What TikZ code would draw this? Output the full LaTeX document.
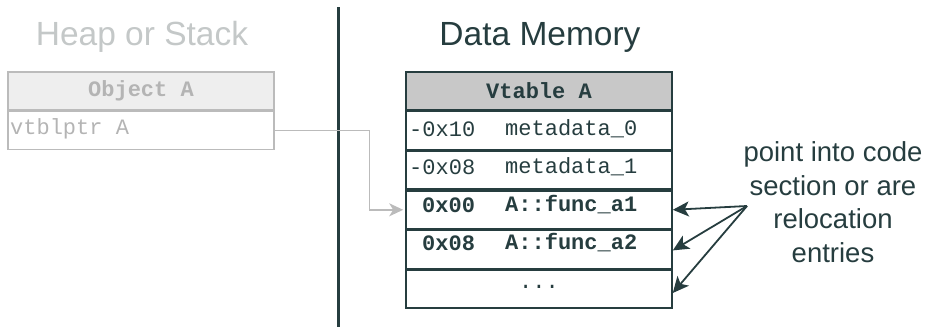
\documentclass[tikz,border=0pt]{standalone}
\usepackage{fontspec}
\setmainfont{Liberation Sans}
\setmonofont{Liberation Mono}
\usetikzlibrary{arrows.meta,positioning}
\definecolor{ink}{HTML}{263D3F}
\definecolor{faded}{HTML}{C4C8C8}
\definecolor{fadedtext}{HTML}{B4B4B4}
\definecolor{fadedline}{HTML}{BBBBBB}
\definecolor{hdrgrey}{HTML}{C8C8C8}
\definecolor{hdrlight}{HTML}{EEEEEE}
\tikzset{
  title/.style={font=\fontsize{33.5}{38}\selectfont, inner sep=0pt},
  cell/.style={draw=ink, line width=1.6pt, minimum width=266pt, minimum height=38pt,
    inner sep=0pt, font=\ttfamily\fontsize{22}{24}\selectfont, text=ink},
  fcell/.style={draw=fadedline, line width=1.4pt, minimum width=266pt, minimum height=38pt,
    inner sep=0pt, font=\ttfamily\fontsize{22}{24}\selectfont, text=fadedtext},
  celltxt/.style={anchor=west, inner sep=0pt, font=\ttfamily\fontsize{22}{24}\selectfont, text=ink},
  boldtxt/.style={celltxt, font=\ttfamily\bfseries\fontsize{22}{24}\selectfont},
  ptr/.style={-{Stealth[length=16pt,width=15pt,inset=4pt]}, line width=1.8pt, draw=ink},
  fptr/.style={-{Stealth[length=14pt,width=13pt,inset=4pt,fill=fadedline]}, line width=1.4pt,
    draw=fadedline, shorten >=2pt},
}
\begin{document}
\begin{tikzpicture}[x=1pt,y=-1pt]
\useasboundingbox (0,0) rectangle (930,327);

% section titles
\node[title, text=faded] (heap) at (142,37) {Heap or Stack};
\node[title, text=ink] (data) at (540,37) {Data Memory};

% divider between the two regions
\coordinate (divtop) at (338,7);
\coordinate (divbot) at (338,327);
\draw[ink, line width=3pt] (divtop) -- (divbot);

% object on the heap or stack
\node[fcell, fill=hdrlight, font=\ttfamily\bfseries\fontsize{22}{24}\selectfont] (objhdr) at (141,91) {Object A};
\node[fcell, anchor=north] (objrow) at (objhdr.south) {};
\node[anchor=west, inner sep=0pt, font=\ttfamily\fontsize{22}{24}\selectfont, text=fadedtext] (vptr) at (10,129) {vtblptr A};

% the vtable in data memory
\node[cell, fill=hdrgrey, font=\ttfamily\bfseries\fontsize{22}{24}\selectfont] (vhdr) at (539,91) {Vtable A};
\node[cell, anchor=north] (r1) at (vhdr.south) {};
\node[cell, anchor=north] (r2) at (r1.south) {};
\node[cell, anchor=north] (r3) at (r2.south) {};
\node[cell, anchor=north] (r4) at (r3.south) {};
\node[cell, anchor=north] (r5) at (r4.south) {\raisebox{4pt}{...}};

\node[celltxt] (o1) at (409,129) {-0x10};
\node[celltxt] (n1) at (505,129) {metadata\_0};
\node[celltxt] (o2) at (409,167) {-0x08};
\node[celltxt] (n2) at (505,167) {metadata\_1};
\node[boldtxt] (o3) at (422,205) {0x00};
\node[boldtxt] (n3) at (505,205) {A::func\_a1};
\node[boldtxt] (o4) at (422,243) {0x08};
\node[boldtxt] (n4) at (505,243) {A::func\_a2};

% vtable pointer
\draw[fptr] (objrow.east) -- ++(95,0) |- (r3.west);

% note on the function entries
\node[align=center, text=ink, font=\fontsize{27.5}{33.5}\selectfont, inner sep=0pt] (note) at (833,202)
  {point into code\\section or are\\relocation\\entries};
\coordinate (src) at (747,206);
\draw[ptr] (src) -- (r3.east);
\draw[ptr] (src) -- ([yshift=-1pt]r4.east);
\draw[ptr] (src) -- ([yshift=-4pt]r5.east);
\end{tikzpicture}
\end{document}
